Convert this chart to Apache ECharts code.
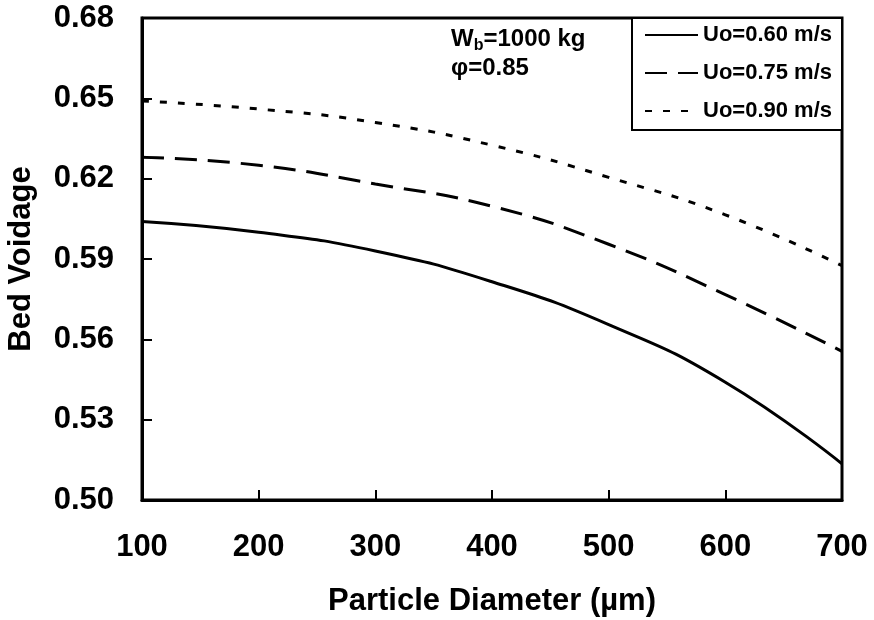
<!DOCTYPE html>
<html>
<head>
<meta charset="utf-8">
<script src="https://cdn.jsdelivr.net/npm/echarts@6/dist/echarts.min.js"></script>
<style>html,body{margin:0;padding:0;background:#fff}#c{width:874px;height:620px}</style>
</head>
<body>
<div id="c"></div>
<script>
var xValues = [100, 200, 300, 400, 500, 600, 700];
var u060 = [0.604, 0.600, 0.593, 0.5815, 0.5655, 0.544, 0.5135];
var u075 = [0.628, 0.625, 0.618, 0.6097, 0.5955, 0.5767, 0.5555];
var u090 = [0.649, 0.646, 0.641, 0.6325, 0.6205, 0.6065, 0.5875];
var seriesNames = ['Uo=0.60 m/s', 'Uo=0.75 m/s', 'Uo=0.90 m/s'];
var yTicks = [0.50, 0.53, 0.56, 0.59, 0.62, 0.65, 0.68];
var xTicks = [100, 200, 300, 400, 500, 600, 700];

function pairs(xs, ys) { return xs.map(function (x, i) { return [x, ys[i]]; }); }
var FONT = '"Liberation Sans", Arial, Helvetica, sans-serif';
var chart = echarts.init(document.getElementById('c'), null, {renderer: 'canvas'});
var lineBase = {type: 'line', showSymbol: false, symbol: 'none', smooth: true, z: 3};
chart.setOption({
  animation: false,
  backgroundColor: '#fff',
  grid: {left: 142, right: 32, top: 18, bottom: 120, containLabel: false, outerBoundsMode: 'none',
    show: true, borderColor: '#000', borderWidth: 3, backgroundColor: 'transparent'},
  xAxis: {
    type: 'value', min: 100, max: 700, interval: 100,
    name: 'Particle Diameter (µm)', nameLocation: 'middle', nameGap: 86,
    nameTextStyle: {fontFamily: FONT, fontWeight: 'bold', fontSize: 31, color: '#000'},
    axisLine: {show: true, onZero: false, lineStyle: {color: '#000', width: 3}},
    axisTick: {show: true, inside: true, length: 10, lineStyle: {color: '#000', width: 2}, customValues: xTicks},
    axisLabel: {margin: 32, fontFamily: FONT, fontWeight: 'bold', fontSize: 31, color: '#000', customValues: xTicks},
    splitLine: {show: false}
  },
  yAxis: {
    type: 'value', min: 0.5, max: 0.68,
    name: 'Bed Voidage', nameLocation: 'middle', nameGap: 105, nameRotate: 90,
    nameTextStyle: {fontFamily: FONT, fontWeight: 'bold', fontSize: 31, color: '#000'},
    axisLine: {show: true, onZero: false, lineStyle: {color: '#000', width: 3}},
    axisTick: {show: true, inside: true, length: 10, lineStyle: {color: '#000', width: 2}, customValues: yTicks},
    axisLabel: {margin: 28, fontFamily: FONT, fontWeight: 'bold', fontSize: 31, color: '#000', customValues: yTicks,
      formatter: function (v) { return Number(v).toFixed(2); }},
    splitLine: {show: false}
  },
  legend: {
    orient: 'vertical', left: 632, top: 18,
    padding: [6, 10, 8, 12], itemGap: 16, itemWidth: 53, itemHeight: 14,
    borderColor: '#000', borderWidth: 2, backgroundColor: '#fff',
    itemStyle: {opacity: 0},
    textStyle: {fontFamily: FONT, fontWeight: 'bold', fontSize: 22, color: '#000'},
    data: seriesNames
  },
  graphic: [{
    type: 'text', left: 451, top: 25, z: 10,
    style: {
      text: 'W{s|b}=1000 kg\nφ=0.85',
      font: 'bold 24px ' + FONT, fill: '#000', lineHeight: 29,
      rich: {s: {font: 'bold 16px ' + FONT, fill: '#000', lineHeight: 26, verticalAlign: 'bottom'}}
    }
  }],
  series: [
    Object.assign({}, lineBase, {name: seriesNames[0], data: pairs(xValues, u060), lineStyle: {color: '#000', width: 3, type: 'solid'}, itemStyle: {color: '#000'}}),
    Object.assign({}, lineBase, {name: seriesNames[1], data: pairs(xValues, u075), lineStyle: {color: '#000', width: 3, type: [22, 11]}, itemStyle: {color: '#000'}}),
    Object.assign({}, lineBase, {name: seriesNames[2], data: pairs(xValues, u090), lineStyle: {color: '#000', width: 3, type: [7, 11]}, itemStyle: {color: '#000'}})
  ]
});
</script>
</body>
</html>
